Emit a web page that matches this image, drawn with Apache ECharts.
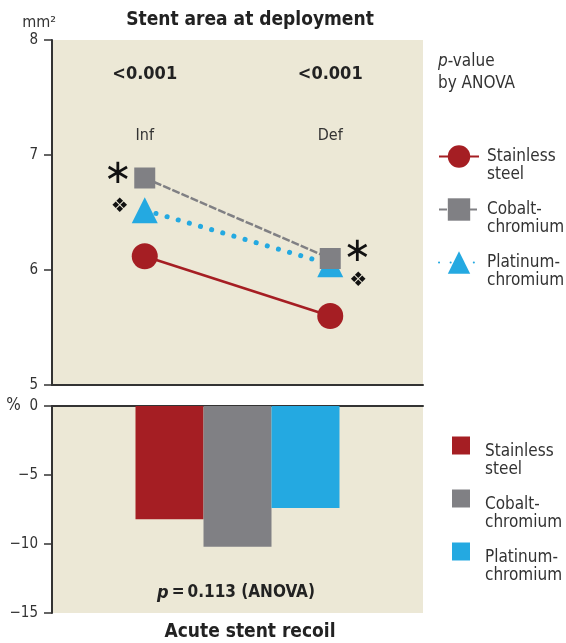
<!DOCTYPE html>
<html><head><meta charset="utf-8">
<script src="https://cdn.jsdelivr.net/npm/echarts@6/dist/echarts.min.js"></script>
<style>html,body{margin:0;padding:0;background:#fff}#c{width:566px;height:643px}</style>
</head><body><div id="c"></div>
<script>
const categories = ['Inf', 'Def'];
const pLabels = ['<0.001', '<0.001'];
const stainless = [6.12, 5.60];
const cobalt = [6.80, 6.10];
const platinum = [6.52, 6.05];
const recoilCat = ['recoil'];
const recoilStainless = [-8.2];
const recoilCobalt = [-10.2];
const recoilPlatinum = [-7.4];
const areaTicks = { min: 5, max: 8, interval: 1 };
const recoilTicks = { min: -15, max: 0, interval: 5 };

const FONT = '"Liberation Sans Narrow", "DejaVu Sans Condensed", sans-serif';
const RED = '#A51E23', GRAY = '#808084', BLUE = '#24A9E1', BG = '#ECE8D6', AX = '#333';
const legendText = {
  'Stainless steel': ['Stainless', 'steel'], 'Cobalt-chromium': ['Cobalt-', 'chromium'], 'Platinum-chromium': ['Platinum-', 'chromium'],
  'Stainless steel ': ['Stainless', 'steel'], 'Cobalt-chromium ': ['Cobalt-', 'chromium'], 'Platinum-chromium ': ['Platinum-', 'chromium']
};
const legendFmt = n => '{s| }\n{t|' + legendText[n][0] + '}\n{t|' + legendText[n][1] + '}';
const ann = (coord, txt, off, size) => ({ coord: coord, symbolSize: 1, itemStyle: { color: 'rgba(0,0,0,0)' },
  label: { show: true, formatter: txt, offset: off, fontSize: size, color: '#111', fontFamily: 'DejaVu Sans' } });

const chart = echarts.init(document.getElementById('c'));
chart.setOption({
  animation: false,
  textStyle: { fontFamily: FONT },
  grid: [
    { left: 52, top: 40, width: 371, height: 345, show: true, backgroundColor: BG, borderWidth: 0 },
    { left: 52, top: 406, width: 371, height: 207, show: true, backgroundColor: BG, borderWidth: 0 }
  ],
  xAxis: [
    { gridIndex: 0, type: 'category', data: categories, position: 'bottom',
      axisLine: { lineStyle: { color: AX, width: 2 } }, axisTick: { show: false },
      axisLabel: { inside: true, margin: 241, fontSize: 16, color: '#333', fontFamily: FONT } },
    { gridIndex: 0, type: 'category', data: pLabels, position: 'top',
      axisLine: { show: false }, axisTick: { show: false },
      axisLabel: { inside: true, margin: 25, fontSize: 18, fontWeight: 'bold', color: '#222', fontFamily: FONT } },
    { gridIndex: 1, type: 'category', data: recoilCat, position: 'top',
      axisLine: { lineStyle: { color: AX, width: 2 } }, axisTick: { show: false }, axisLabel: { show: false } }
  ],
  yAxis: [
    { gridIndex: 0, type: 'value', min: areaTicks.min, max: areaTicks.max, interval: areaTicks.interval,
      axisLine: { show: true, lineStyle: { color: AX, width: 2 } }, axisTick: { show: true, length: 8, lineStyle: { color: AX, width: 1.5 } },
      splitLine: { show: false }, axisLabel: { fontSize: 15, color: '#333', margin: 14, fontFamily: FONT },
      name: 'mm²', nameLocation: 'end', nameGap: 9, nameTextStyle: { fontSize: 16, color: '#333', align: 'right', padding: [0, -4, 0, 0], fontFamily: FONT } },
    { gridIndex: 1, type: 'value', min: recoilTicks.min, max: recoilTicks.max, interval: recoilTicks.interval,
      axisLine: { show: true, lineStyle: { color: AX, width: 2 } }, axisTick: { show: true, length: 8, lineStyle: { color: AX, width: 1.5 } },
      splitLine: { show: false },
      axisLabel: { fontSize: 15, color: '#333', margin: 14, fontFamily: FONT,
        formatter: v => v === 0 ? '{p|%}  0' : String(v).replace('-', '\u2212'),
        rich: { p: { fontSize: 17, color: '#333', fontFamily: FONT } } } }
  ],
  legend: [
    { data: ['Stainless steel', 'Cobalt-chromium', 'Platinum-chromium'], orient: 'vertical', left: 438, top: 130, padding: 0,
      itemWidth: 40, itemHeight: 28, itemGap: 0, selectedMode: false, formatter: legendFmt,
      textStyle: { fontSize: 17, color: '#333', padding: [0, 0, 0, 3], fontFamily: FONT,
        rich: { s: { lineHeight: 18, fontSize: 17 }, t: { lineHeight: 18, fontSize: 17, fontFamily: FONT, color: '#333' } } } },
    { data: ['Stainless steel ', 'Cobalt-chromium ', 'Platinum-chromium '], orient: 'vertical', left: 452, top: 419, padding: 0,
      itemWidth: 18, itemHeight: 18, itemGap: -6, icon: 'rect', selectedMode: false, formatter: legendFmt,
      textStyle: { fontSize: 17, color: '#333', padding: [0, 0, 0, 10], fontFamily: FONT,
        rich: { s: { lineHeight: 30, fontSize: 17 }, t: { lineHeight: 18, fontSize: 17, fontFamily: FONT, color: '#333' } } } }
  ],
  series: [
    { name: 'Stainless steel', type: 'line', xAxisIndex: 0, yAxisIndex: 0, data: stainless,
      symbol: 'circle', symbolSize: 26, itemStyle: { color: RED }, lineStyle: { color: RED, width: 2.5 }, z: 3 },
    { name: 'Platinum-chromium', type: 'line', xAxisIndex: 0, yAxisIndex: 0, data: platinum,
      symbol: 'triangle', symbolSize: 26, itemStyle: { color: BLUE },
      lineStyle: { color: BLUE, width: 5, type: [0.1, 11.5], cap: 'round' }, z: 3,
      markPoint: { data: [ann(['Inf', platinum[0]], '\u2756', [-25, -3], 20), ann(['Def', platinum[1]], '\u2756', [28, 17], 20)] } },
    { name: 'Cobalt-chromium', type: 'line', xAxisIndex: 0, yAxisIndex: 0, data: cobalt,
      symbol: 'rect', symbolSize: 21, itemStyle: { color: GRAY },
      lineStyle: { color: GRAY, width: 2.5, type: [8, 2] }, z: 4,
      markPoint: { data: [ann(['Inf', cobalt[0]], '\u2217', [-27, -3], 34), ann(['Def', cobalt[1]], '\u2217', [27, -6], 34)] } },
    { name: 'Stainless steel ', type: 'bar', xAxisIndex: 2, yAxisIndex: 1, data: recoilStainless,
      itemStyle: { color: RED }, barWidth: 68, barGap: '0%' },
    { name: 'Cobalt-chromium ', type: 'bar', xAxisIndex: 2, yAxisIndex: 1, data: recoilCobalt,
      itemStyle: { color: GRAY }, barWidth: 68, barGap: '0%' },
    { name: 'Platinum-chromium ', type: 'bar', xAxisIndex: 2, yAxisIndex: 1, data: recoilPlatinum,
      itemStyle: { color: BLUE }, barWidth: 68, barGap: '0%' }
  ],
  graphic: [
    { type: 'text', x: 250, y: 20, style: { text: 'Stent area at deployment', font: 'bold 19px ' + FONT, fill: '#222', align: 'center', verticalAlign: 'middle' } },
    { type: 'text', left: 438, top: 51, style: { text: '{i|p}-value\nby ANOVA', font: '17px ' + FONT, fill: '#333', lineHeight: 22,
      rich: { i: { fontStyle: 'italic', fontSize: 17, fontFamily: FONT, lineHeight: 22 } } } },
    { type: 'text', x: 236, y: 593, style: { text: '{i|p}{n|\u2009=\u20090.113 (ANOVA)}', font: 'bold 17px ' + FONT, fill: '#222', align: 'center', verticalAlign: 'middle',
      rich: { i: { fontStyle: 'italic', fontWeight: 'bold', fontSize: 18, fontFamily: FONT, fill: '#222' }, n: { fontWeight: 'bold', fontSize: 17, fontFamily: FONT, fill: '#222' } } } },
    { type: 'text', x: 250, y: 632, style: { text: 'Acute stent recoil', font: 'bold 19px ' + FONT, fill: '#222', align: 'center', verticalAlign: 'middle' } }
  ]
});
</script></body></html>
